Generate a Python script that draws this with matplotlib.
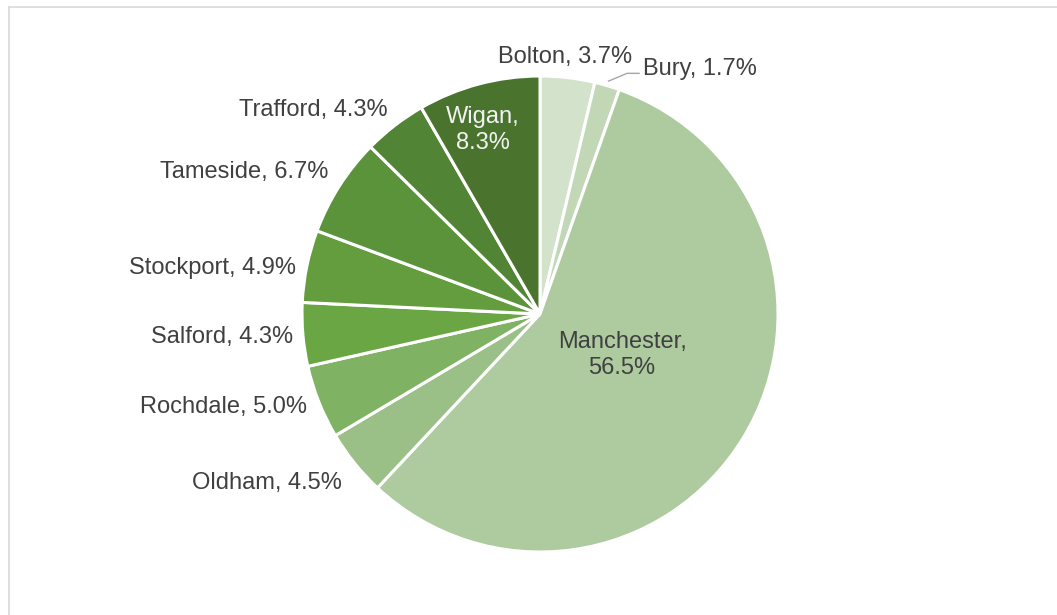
import matplotlib
matplotlib.use("Agg")
import matplotlib.pyplot as plt
from matplotlib.lines import Line2D
import numpy as np

# Share of total by Greater Manchester borough (clockwise from 12 o'clock)
boroughs = ["Bolton", "Bury", "Manchester", "Oldham", "Rochdale",
            "Salford", "Stockport", "Tameside", "Trafford", "Wigan"]
shares = [3.7, 1.7, 56.5, 4.5, 5.0, 4.3, 4.9, 6.7, 4.3, 8.3]

colors = ["#d3e3cb", "#c1d7b6", "#adcb9f", "#9abf87", "#80b264",
          "#6aa744", "#639d3d", "#5a933a", "#528436", "#4a742e"]

# label placement (offset from pie centre in radius units) and alignment
label_offsets = [(0.105, 1.08), (0.433, 1.028), (0.345, -0.172), (-0.832, -0.71),
                 (-0.979, -0.39), (-1.038, -0.097), (-1.025, 0.193),
                 (-0.89, 0.597), (-0.639, 0.857), (-0.24, 0.773)]
label_ha = ["center", "left", "center", "right", "right",
            "right", "right", "right", "right", "center"]
label_colors = ["#404040"] * 9 + ["#f2f2f2"]

W, H = 1057, 615
fig = plt.figure(figsize=(W / 100, H / 100), dpi=100)
ax = fig.add_axes([0, 0, 1, 1])

cx, cy, R = 540, H - 314, 238
wedges, _ = ax.pie(shares, colors=colors, startangle=90, counterclock=False,
                   radius=R, center=(cx, cy), frame=True,
                   wedgeprops=dict(edgecolor="white", linewidth=2.2))
ax.set_xlim(0, W)
ax.set_ylim(0, H)
ax.set_aspect("equal")
ax.axis("off")

font = ["Liberation Sans", "DejaVu Sans"]
for name, val, (dx, dy), ha, tc in zip(boroughs, shares, label_offsets,
                                       label_ha, label_colors):
    if name in ("Manchester", "Wigan"):
        txt = f"{name},\n{val:.1f}%"
    else:
        txt = f"{name}, {val:.1f}%"
    ax.text(cx + dx * R, cy + dy * R, txt, ha=ha, va="center",
            fontsize=17, color=tc, family=font, linespacing=1.22)

# leader line for the narrow Bury slice
w = wedges[boroughs.index("Bury")]
mid = np.deg2rad((w.theta1 + w.theta2) / 2)
p0 = (cx + R * 1.02 * np.cos(mid), cy + R * 1.02 * np.sin(mid))
tx = cx + label_offsets[1][0] * R - 4
ty = cy + label_offsets[1][1] * R - 4
ax.plot([p0[0], tx - 12, tx], [p0[1], ty, ty], color="#a6a6a6", lw=1.0)

# chart-area border
fig.add_artist(Line2D([9 / W, 1], [1 - 7 / H, 1 - 7 / H], color="#d9d9d9", lw=1.2))
fig.add_artist(Line2D([9 / W, 9 / W], [0, 1 - 7 / H], color="#d9d9d9", lw=1.2))

fig.savefig("out.png", dpi=100, facecolor="white")
